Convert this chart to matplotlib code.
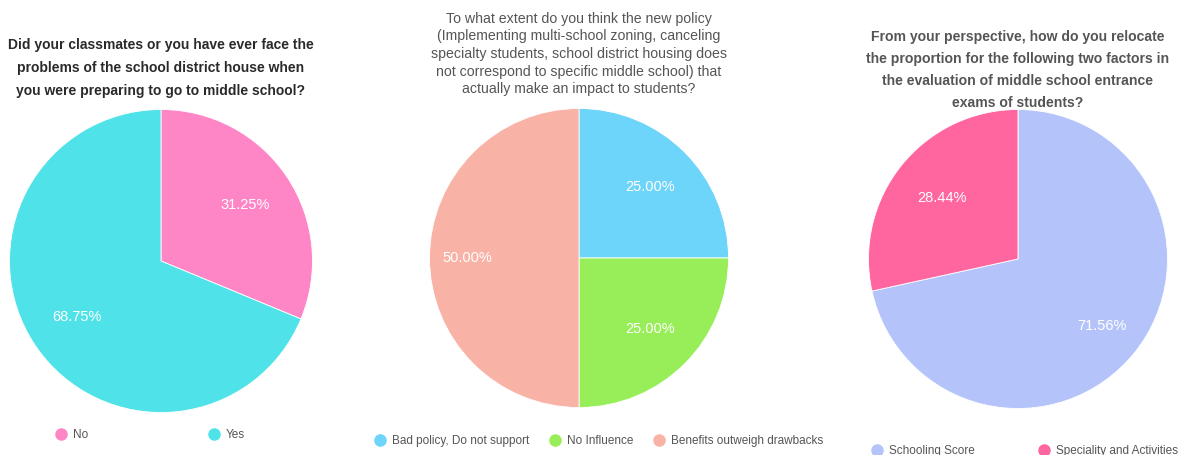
import matplotlib.pyplot as plt
from matplotlib.lines import Line2D
import numpy as np

plt.rcParams['font.family'] = ['Liberation Sans', 'DejaVu Sans']

W, H = 1191, 455

# chart 1
q1_title = ("Did your classmates or you have ever face the\n"
            "problems of the school district house when\n"
            "you were preparing to go to middle school?")
q1_labels = ["No", "Yes"]
q1_values = [31.25, 68.75]
q1_colors = ["#FF86C6", "#4FE3E9"]

# chart 2
q2_title = ("To what extent do you think the new policy\n"
            "(Implementing multi-school zoning, canceling\n"
            "specialty students, school district housing does\n"
            "not correspond to specific middle school) that\n"
            "actually make an impact to students?")
q2_labels = ["Bad policy, Do not support", "No Influence", "Benefits outweigh drawbacks"]
q2_values = [25.00, 25.00, 50.00]
q2_colors = ["#6DD4FA", "#98EE58", "#F9B3A6"]

# chart 3
q3_title = ("From your perspective, how do you relocate\n"
            "the proportion for the following two factors in\n"
            "the evaluation of middle school entrance\n"
            "exams of students?")
q3_labels = ["Schooling Score", "Speciality and Activities"]
q3_values = [71.56, 28.44]
q3_colors = ["#B4C4FB", "#FF659F"]


def px_axes(fig, cx, cy, r):
    # axes box in pixel coords (top-left origin) -> figure fraction
    return fig.add_axes([(cx - r) / W, (H - cy - r) / H, 2 * r / W, 2 * r / H])


def draw_pie(ax, values, colors, label_dist):
    wedges, _, autotexts = ax.pie(values, colors=colors, startangle=90, counterclock=False,
                                  autopct='%.2f%%', pctdistance=0.65,
                                  wedgeprops=dict(linewidth=0.6, edgecolor='white'),
                                  textprops=dict(color='white', fontsize=10.5))
    for w, t, d in zip(wedges, autotexts, label_dist):
        ang = np.deg2rad((w.theta1 + w.theta2) / 2)
        t.set_position((d * np.cos(ang), d * np.sin(ang)))
    ax.set_xlim(-1.01, 1.01)
    ax.set_ylim(-1.01, 1.01)
    return wedges


def draw_legend(fig, labels, colors, x, y, colspace):
    handles = [Line2D([], [], marker='o', linestyle='none', markersize=8,
                      markerfacecolor=c, markeredgecolor=c) for c in colors]
    fig.legend(handles, labels, loc='center left', bbox_to_anchor=(x / W, 1 - y / H),
               ncol=len(labels), frameon=False, fontsize=8.5, labelcolor='#555555',
               handlelength=0.8, handletextpad=0.6, columnspacing=colspace,
               borderpad=0, borderaxespad=0)


fig = plt.figure(figsize=(W / 100, H / 100), dpi=100)

ax1 = px_axes(fig, 161, 261, 153)
draw_pie(ax1, q1_values, q1_colors, [0.67, 0.67])
fig.text(161 / W, 1 - 68 / H, q1_title, ha='center', va='center', fontsize=10,
         fontweight='bold', color='#2a2a2a', linespacing=1.8)
draw_legend(fig, q1_labels, q1_colors, 56, 435, 10.3)

ax2 = px_axes(fig, 579, 258, 151)
draw_pie(ax2, q2_values, q2_colors, [0.67, 0.67, 0.75])
fig.text(579 / W, 1 - 54 / H, q2_title, ha='center', va='center', fontsize=10.2,
         color='#555555', linespacing=1.33)
draw_legend(fig, q2_labels, q2_colors, 375, 441, 1.8)

ax3 = px_axes(fig, 1018, 259, 151)
draw_pie(ax3, q3_values, q3_colors, [0.72, 0.65])
fig.text(1018 / W, 1 - 70 / H, q3_title, ha='center', va='center', fontsize=10.1,
         fontweight='bold', color='#555555', linespacing=1.75)
draw_legend(fig, q3_labels, q3_colors, 872, 451, 5.5)

fig.savefig('out.png', dpi=100)
